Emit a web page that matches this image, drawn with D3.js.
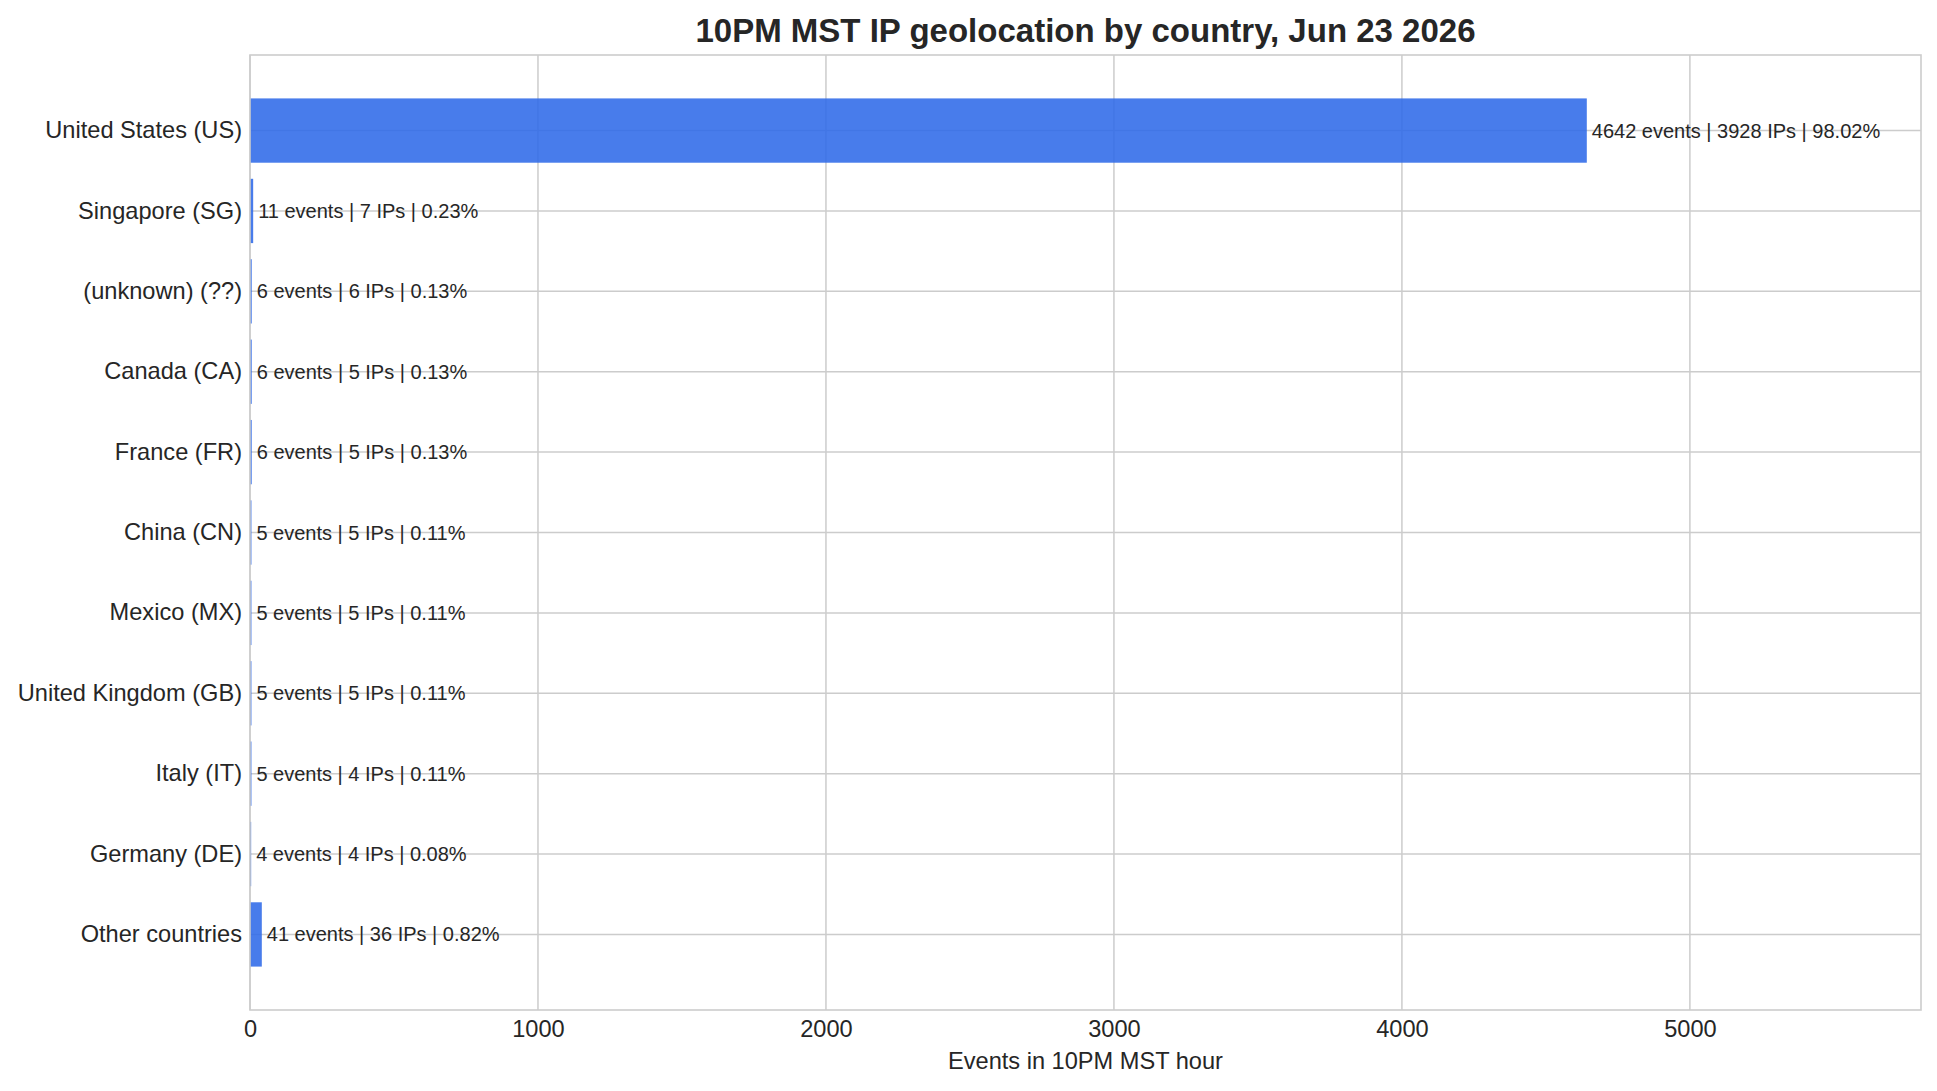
<!DOCTYPE html>
<html>
<head>
<meta charset="utf-8">
<script src="https://cdn.jsdelivr.net/npm/d3@7"></script>
<style>
  body { margin: 0; background: #fff; }
  text { font-family: "Liberation Sans", Arial, sans-serif; fill: #262626; }
</style>
</head>
<body>
<div id="chart"></div>
<script>
// data
var countries = ["United States (US)", "Singapore (SG)", "(unknown) (??)", "Canada (CA)", "France (FR)",
  "China (CN)", "Mexico (MX)", "United Kingdom (GB)", "Italy (IT)", "Germany (DE)", "Other countries"];
var events = [4642, 11, 6, 6, 6, 5, 5, 5, 5, 4, 41];
var ips = [3928, 7, 6, 5, 5, 5, 5, 5, 4, 4, 36];
var shares = ["98.02", "0.23", "0.13", "0.13", "0.13", "0.11", "0.11", "0.11", "0.11", "0.08", "0.82"];
var xTicks = [0, 1000, 2000, 3000, 4000, 5000];

var W = 1937, H = 1091;
var margin = { top: 55, right: 16, bottom: 81, left: 250 },
  width = W - margin.left - margin.right,
  height = H - margin.top - margin.bottom;

var svg = d3.select("#chart")
  .append("svg")
  .attr("width", W)
  .attr("height", H);

var g = svg.append("g")
  .attr("transform", "translate(" + margin.left + "," + margin.top + ")");

// x axis: matplotlib-ish limit of max * 1.25
var x = d3.scaleLinear()
  .domain([0, d3.max(events) * 1.25])
  .range([0, width]);

// bands mimic barh height 0.8 with default 5% margins
var y = d3.scaleBand()
  .domain(countries)
  .range([0, height])
  .paddingInner(0.2)
  .paddingOuter(0.54);

// grid
g.append("g")
  .selectAll("line.vg")
  .data(xTicks)
  .enter()
  .append("line")
  .attr("x1", function (d) { return x(d); })
  .attr("x2", function (d) { return x(d); })
  .attr("y1", 0)
  .attr("y2", height)
  .style("stroke", "#cccccc")
  .style("stroke-width", 1.5);

g.append("g")
  .selectAll("line.hg")
  .data(countries)
  .enter()
  .append("line")
  .attr("x1", 0)
  .attr("x2", width)
  .attr("y1", function (d) { return y(d) + y.bandwidth() / 2; })
  .attr("y2", function (d) { return y(d) + y.bandwidth() / 2; })
  .style("stroke", "#cccccc")
  .style("stroke-width", 1.5);

// bars
g.selectAll("rect.bar")
  .data(countries)
  .enter()
  .append("rect")
  .attr("class", "bar")
  .attr("x", x(0))
  .attr("y", function (d) { return y(d); })
  .attr("width", function (d, i) { return x(events[i]) - x(0); })
  .attr("height", y.bandwidth())
  .attr("fill", "#2f6ae8")
  .attr("fill-opacity", 0.88);

// value labels
g.selectAll("text.lab")
  .data(countries)
  .enter()
  .append("text")
  .attr("x", function (d, i) { return x(events[i]) + 5; })
  .attr("y", function (d) { return y(d) + y.bandwidth() / 2; })
  .attr("dominant-baseline", "central")
  .style("font-size", "20px")
  .text(function (d, i) { return events[i] + " events | " + ips[i] + " IPs | " + shares[i] + "%"; });

// y axis labels
var yAxis = g.append("g")
  .call(d3.axisLeft(y).tickSize(0).tickPadding(8));
yAxis.select(".domain").remove();
yAxis.selectAll("text")
  .style("font-size", "23.6px")
  .style("font-family", "'Liberation Sans', Arial, sans-serif")
  .attr("fill", "#262626");

// x axis labels
var xAxis = g.append("g")
  .attr("transform", "translate(0," + height + ")")
  .call(d3.axisBottom(x).tickValues(xTicks).tickFormat(d3.format("d")).tickSize(0).tickPadding(10));
xAxis.select(".domain").remove();
xAxis.selectAll("text")
  .style("font-size", "23.6px")
  .style("font-family", "'Liberation Sans', Arial, sans-serif")
  .attr("fill", "#262626");

// frame
g.append("rect")
  .attr("x", 0)
  .attr("y", 0)
  .attr("width", width)
  .attr("height", height)
  .attr("fill", "none")
  .style("stroke", "#cccccc")
  .style("stroke-width", 1.6);

// x label
g.append("text")
  .attr("x", width / 2)
  .attr("y", height + 51)
  .attr("text-anchor", "middle")
  .attr("dominant-baseline", "central")
  .style("font-size", "23.6px")
  .text("Events in 10PM MST hour");

// title
svg.append("text")
  .attr("x", margin.left + width / 2)
  .attr("y", 30)
  .attr("text-anchor", "middle")
  .attr("dominant-baseline", "central")
  .style("font-size", "33px")
  .style("font-weight", "bold")
  .text("10PM MST IP geolocation by country, Jun 23 2026");
</script>
</body>
</html>
